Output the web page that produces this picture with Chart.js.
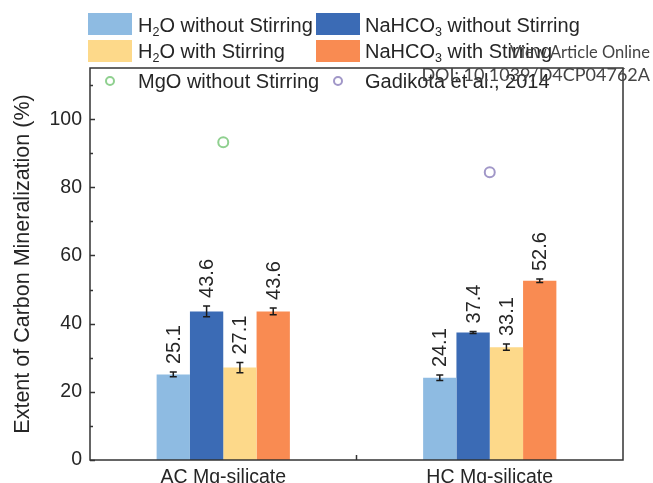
<!DOCTYPE html>
<html>
<head>
<meta charset="utf-8">
<script src="https://cdn.jsdelivr.net/npm/chart.js@4"></script>
<style>
  html, body { margin: 0; padding: 0; background: #fff; }
  #wrap { position: relative; width: 653px; height: 483px; overflow: hidden;
          font-family: "Liberation Sans", Arial, sans-serif; color: #262626; }
  #chart { position: absolute; left: 0; top: 0; }
  .lg { position: absolute; font-size: 20px; line-height: 20px; white-space: nowrap; }
  .lg sub { font-size: 12.5px; line-height: 0; vertical-align: -4px; }
  .sw { position: absolute; width: 44px; height: 22px; }
  .mk { position: absolute; width: 6px; height: 6px; border-radius: 50%; border: 2px solid; }
  .wm { position: absolute; right: 3px; font-family: Lato, "Open Sans", sans-serif;
        color: #444; white-space: nowrap; }
</style>
</head>
<body>
<div id="wrap">
  <canvas id="chart" width="653" height="483"></canvas>

  <!-- legend -->
  <div class="sw" style="left:88px;top:13px;background:#8ebbe2"></div>
  <div class="lg" style="left:138px;top:15px">H<sub>2</sub>O without Stirring</div>
  <div class="sw" style="left:316px;top:13px;background:#3b6bb5"></div>
  <div class="lg" style="left:365px;top:15px">NaHCO<sub>3</sub> without Stirring</div>

  <div class="sw" style="left:88px;top:40px;background:#fdd98a"></div>
  <div class="lg" style="left:138px;top:41px">H<sub>2</sub>O with Stirring</div>
  <div class="sw" style="left:316px;top:40px;background:#f98b52"></div>
  <div class="lg" style="left:365px;top:41px">NaHCO<sub>3</sub> with Stirring</div>

  <div class="mk" style="left:105px;top:76px;border-color:#8fd08f"></div>
  <div class="lg" style="left:138px;top:71px">MgO without Stirring</div>
  <div class="mk" style="left:333px;top:76px;border-color:#a197c8"></div>
  <div class="lg" style="left:365px;top:71px">Gadikota et al., 2014</div>

  <div class="wm" style="top:44px;font-size:16.5px;line-height:16px">View Article Online</div>
  <div class="wm" style="top:65px;font-size:18px;line-height:18px">DOI: 10.1039/D4CP04762A</div>
</div>

<script>
// Sample groups on the x axis
const categories = ['AC Mg-silicate', 'HC Mg-silicate'];

// Extent of carbon mineralization (%) and standard deviations
const h2oNoStir        = [25.1, 24.1];
const h2oNoStirErr     = [0.7, 0.8];
const nahco3NoStir     = [43.6, 37.4];
const nahco3NoStirErr  = [1.6, 0.3];
const h2oStir          = [27.1, 33.1];
const h2oStirErr       = [1.5, 0.9];
const nahco3Stir       = [43.6, 52.6];
const nahco3StirErr    = [1.0, 0.5];

// Reference points
const mgoNoStir    = [93.2, null];
const gadikota2014 = [null, 84.4];

// Axis settings
const yMin = 0, yMax = 115, yStep = 20, yMinorStep = 10;

const TEXT = '#262626';
const FAMILY = '"Liberation Sans", Arial, sans-serif';
const FONT = { family: FAMILY, size: 19.5 };

// Error bars, value labels, framed axes with inward ticks
const decorations = {
  id: 'decorations',
  afterDatasetsDraw(chart) {
    const { ctx, chartArea: a } = chart;
    const ys = chart.scales.y, xs = chart.scales.x;

    // frame
    ctx.save();
    ctx.strokeStyle = '#333';
    ctx.lineWidth = 1.5;
    ctx.strokeRect(a.left, a.top, a.right - a.left, a.bottom - a.top);

    // y ticks (major + minor), pointing inward
    for (let v = yMin; v <= yMax; v += yMinorStep) {
      const p = Math.round(ys.getPixelForValue(v)) + 0.5;
      const len = (v % yStep === 0) ? 5 : 3;
      ctx.beginPath();
      ctx.moveTo(a.left, p);
      ctx.lineTo(a.left + len, p);
      ctx.stroke();
    }
    // x tick between the two groups
    const mid = (xs.getPixelForValue(0) + xs.getPixelForValue(1)) / 2;
    ctx.beginPath();
    ctx.moveTo(mid, a.bottom);
    ctx.lineTo(mid, a.bottom - 5);
    ctx.stroke();
    ctx.restore();

    // error bars and rotated value labels
    chart.data.datasets.forEach((ds, di) => {
      if (!ds.err) return;
      const meta = chart.getDatasetMeta(di);
      meta.data.forEach((bar, i) => {
        const v = ds.data[i], e = ds.err[i];
        const yTop = ys.getPixelForValue(v + e);
        const yBot = ys.getPixelForValue(v - e);
        const cap = 3.5;
        ctx.save();
        ctx.strokeStyle = '#1a1a1a';
        ctx.lineWidth = 1.5;
        ctx.beginPath();
        ctx.moveTo(bar.x, yTop); ctx.lineTo(bar.x, yBot);
        ctx.moveTo(bar.x - cap, yTop); ctx.lineTo(bar.x + cap, yTop);
        ctx.moveTo(bar.x - cap, yBot); ctx.lineTo(bar.x + cap, yBot);
        ctx.stroke();

        ctx.translate(bar.x + 1, yTop - 8);
        ctx.rotate(-Math.PI / 2);
        ctx.fillStyle = TEXT;
        ctx.font = `20px ${FAMILY}`;
        ctx.textAlign = 'left';
        ctx.textBaseline = 'middle';
        ctx.fillText(v.toFixed(1), 0, 0);
        ctx.restore();
      });
    });
  }
};

const barDefaults = { borderWidth: 0, categoryPercentage: 0.5, barPercentage: 1.0 };

new Chart(document.getElementById('chart'), {
  type: 'bar',
  data: {
    labels: categories,
    datasets: [
      { ...barDefaults, label: 'H2O without Stirring', data: h2oNoStir, err: h2oNoStirErr, backgroundColor: '#8ebbe2' },
      { ...barDefaults, label: 'NaHCO3 without Stirring', data: nahco3NoStir, err: nahco3NoStirErr, backgroundColor: '#3b6bb5' },
      { ...barDefaults, label: 'H2O with Stirring', data: h2oStir, err: h2oStirErr, backgroundColor: '#fdd98a' },
      { ...barDefaults, label: 'NaHCO3 with Stirring', data: nahco3Stir, err: nahco3StirErr, backgroundColor: '#f98b52' },
      { type: 'line', label: 'MgO without Stirring', data: mgoNoStir, showLine: false,
        pointRadius: 5, pointBorderWidth: 2, pointBorderColor: '#8fd08f', pointBackgroundColor: 'rgba(0,0,0,0)' },
      { type: 'line', label: 'Gadikota et al., 2014', data: gadikota2014, showLine: false,
        pointRadius: 5, pointBorderWidth: 2, pointBorderColor: '#a197c8', pointBackgroundColor: 'rgba(0,0,0,0)' }
    ]
  },
  options: {
    responsive: false,
    animation: false,
    layout: { padding: { top: 68, right: 30, left: 0, bottom: 0 } },
    plugins: { legend: { display: false }, tooltip: { enabled: false } },
    scales: {
      x: {
        grid: { display: false, drawTicks: false },
        border: { display: false },
        ticks: { color: TEXT, font: FONT, padding: 6 },
        afterFit(s) { s.height = 23; }
      },
      y: {
        min: yMin, max: yMax,
        grid: { display: false, drawTicks: false },
        border: { display: false },
        ticks: { stepSize: yStep, includeBounds: false, color: TEXT, font: FONT, padding: 8 },
        title: { display: true, text: 'Extent of Carbon Mineralization (%)', color: TEXT,
                 font: { family: FAMILY, size: 21.5 }, padding: { top: 10, bottom: 0 } },
        afterFit(s) { s.width = 90; }
      }
    }
  },
  plugins: [decorations]
});
</script>
</body>
</html>
